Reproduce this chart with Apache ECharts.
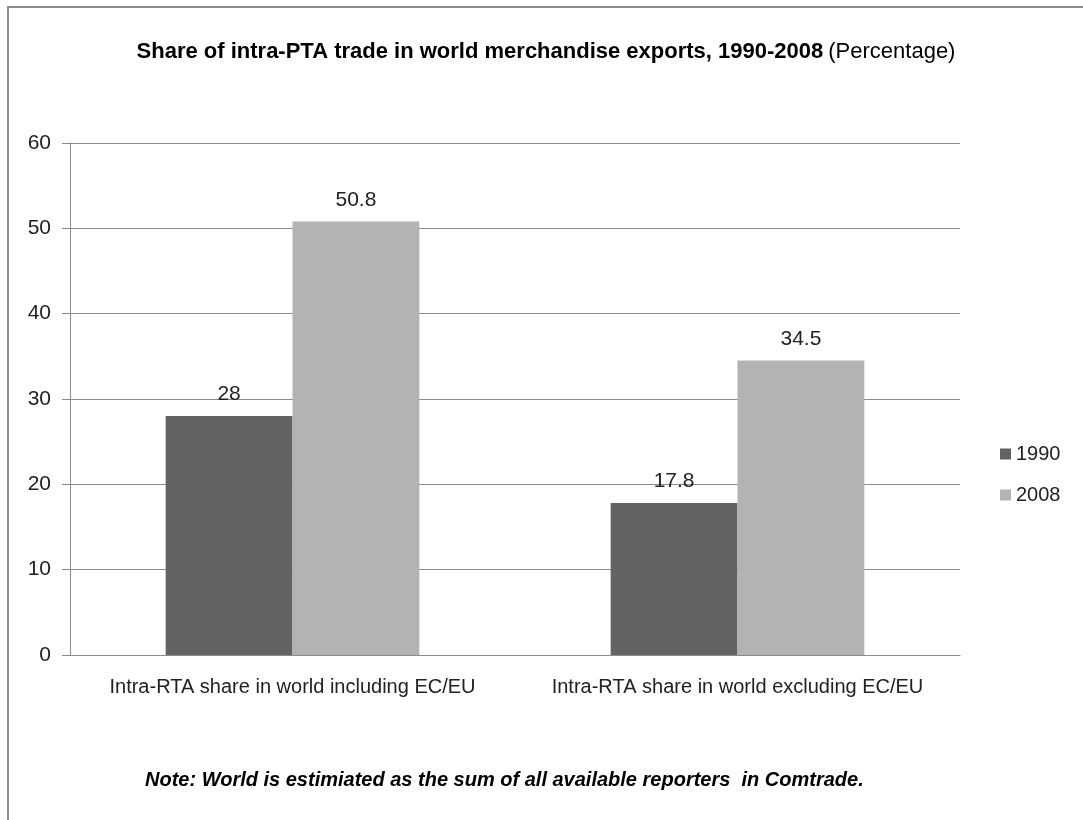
<!DOCTYPE html>
<html>
<head>
<meta charset="utf-8">
<script src="https://cdn.jsdelivr.net/npm/echarts@6/dist/echarts.min.js"></script>
<style>
  html, body { margin: 0; padding: 0; background: #fff; }
  #main { position: absolute; left: 0; top: 0; width: 1083px; height: 820px; }
  #frame { position: absolute; left: 7px; top: 6px; width: 1200px; height: 900px; border: 2px solid #8c8c8c; }
</style>
</head>
<body>
<div id="frame"></div>
<div id="main"></div>
<script>
var categories = ['Intra-RTA share in world including EC/EU', 'Intra-RTA share in world excluding EC/EU'];
var seriesNames = ['1990', '2008'];
var values1990 = [28, 17.8];
var values2008 = [50.8, 34.5];

var font = 'Liberation Sans';
var myChart = echarts.init(document.getElementById('main'));
var option = {
    backgroundColor: 'transparent',
    animation: false,
    title: {
        text: '{b|Share of intra-PTA trade in world merchandise exports, 1990-2008} {n|(Percentage)}',
        left: 541,
        textAlign: 'center',
        top: 36,
        textStyle: {
            fontWeight: 'normal',
            rich: {
                b: { fontFamily: font, fontSize: 22, fontWeight: 'bold', color: '#000' },
                n: { fontFamily: font, fontSize: 22, fontWeight: 'normal', color: '#000' }
            }
        }
    },
    legend: {
        orient: 'vertical',
        left: 995,
        top: 439,
        itemWidth: 11,
        itemHeight: 11,
        itemGap: 21,
        icon: 'rect',
        data: seriesNames,
        textStyle: { fontFamily: font, fontSize: 20, color: '#222' }
    },
    grid: { left: 70, right: 123, top: 143, bottom: 165 },
    xAxis: {
        type: 'category',
        data: categories,
        axisLine: { lineStyle: { color: '#8c8c8c' } },
        axisTick: { show: false },
        axisLabel: { interval: 0, margin: 22, fontFamily: font, fontSize: 20, color: '#222' }
    },
    yAxis: {
        type: 'value',
        min: 0,
        max: 60,
        interval: 10,
        axisLine: { show: true, lineStyle: { color: '#8c8c8c' } },
        axisTick: { show: true, length: 8, lineStyle: { color: '#8c8c8c' } },
        splitLine: { lineStyle: { color: '#8c8c8c' } },
        axisLabel: { margin: 19, fontFamily: font, fontSize: 21, color: '#222' }
    },
    series: [
        {
            name: '1990',
            type: 'bar',
            data: values1990,
            barGap: '0%',
            barCategoryGap: '43%',
            itemStyle: { color: '#636363' },
            label: { show: true, position: 'top', distance: 11, fontFamily: font, fontSize: 21, color: '#222' }
        },
        {
            name: '2008',
            type: 'bar',
            data: values2008,
            barGap: '0%',
            barCategoryGap: '43%',
            itemStyle: { color: '#b3b3b3' },
            label: { show: true, position: 'top', distance: 11, fontFamily: font, fontSize: 21, color: '#222' }
        }
    ],
    graphic: [{
        type: 'text',
        left: 145,
        top: 770,
        style: {
            text: 'Note: World is estimiated as the sum of all available reporters  in Comtrade.',
            fontFamily: font,
            fontSize: 20,
            fontWeight: 'bold',
            fontStyle: 'italic',
            fill: '#000'
        }
    }]
};
myChart.setOption(option);
</script>
</body>
</html>
